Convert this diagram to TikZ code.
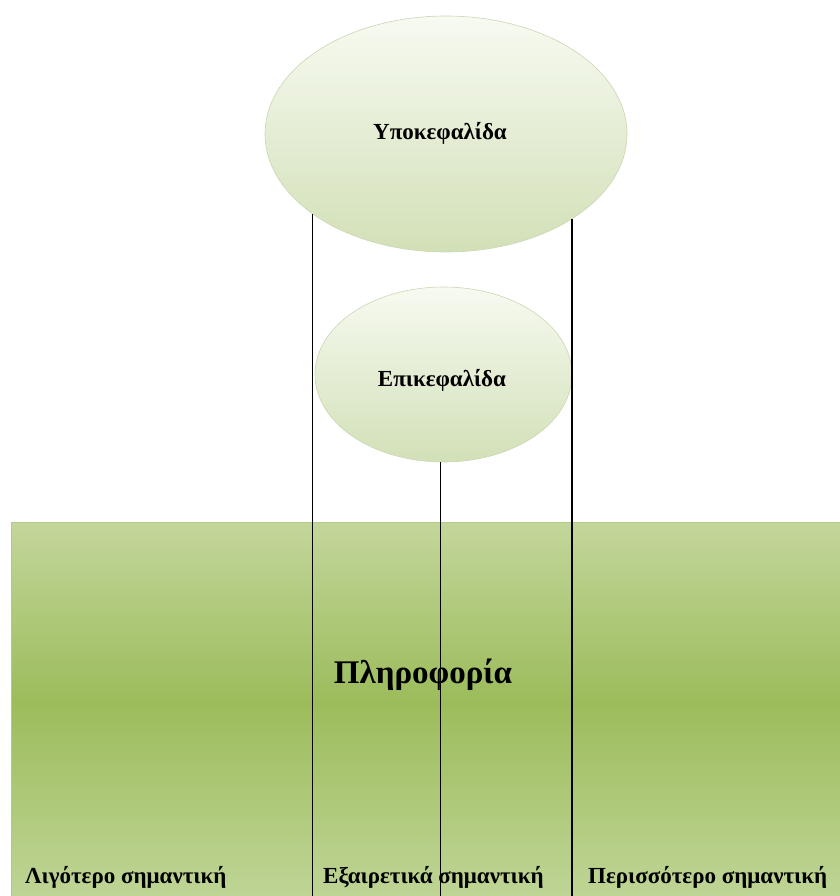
\documentclass[tikz,border=0pt]{standalone}
\usepackage{fontspec}
\setmainfont{Liberation Serif}
\usetikzlibrary{shapes.geometric}
\definecolor{rtop}{HTML}{C3D69B}
\definecolor{rmid}{HTML}{9CBC5B}
\definecolor{rbot}{HTML}{C0D597}
\definecolor{redge}{HTML}{B3C98A}
\definecolor{etop}{HTML}{F7FAF1}
\definecolor{ebot}{HTML}{D2E0B7}
\definecolor{eedge}{HTML}{CBD6B4}
\begin{document}
\begin{tikzpicture}[x=1pt,y=-1pt,
  bubble/.style={ellipse, draw=eedge, line width=0.6pt, top color=etop, bottom color=ebot, inner sep=0pt},
  infobox/.style={rectangle, inner sep=0pt, outer sep=0pt, anchor=north west, minimum width=840pt},
  lbl/.style={font=\bfseries\fontsize{23}{27}\selectfont, anchor=base west, inner sep=0pt},
  conn/.style={line width=1.2pt, black}]
\useasboundingbox (0,0) rectangle (839,896);
\node[infobox, top color=rtop, bottom color=rmid, minimum height=180pt] (info) at (11,522) {};
\node[infobox, top color=rmid, bottom color=rbot, minimum height=200pt] (info2) at (11,701.5) {};
\draw[redge, line width=0.8pt] (info.south west) -- (info.north west) -- (info.north east);
\draw[redge, line width=0.8pt] (info2.north west) -- (info2.south west);
\node[bubble, minimum width=362pt, minimum height=236pt] (sub) at (446,134) {};
\node[bubble, minimum width=257pt, minimum height=175pt] (head) at (443.5,374.5) {};
\node[lbl, anchor=base] (subt) at (440,140) {Υποκεφαλίδα};
\node[lbl, anchor=base] (headt) at (442,386) {Επικεφαλίδα};
\node[font=\bfseries\fontsize{33}{38}\selectfont, anchor=base, inner sep=0pt] (infot) at (423,683) {Πληροφορία};
\node[lbl] (l1) at (25,883) {Λιγότερο σημαντική};
\node[lbl] (l2) at (323,883) {Εξαιρετικά σημαντική};
\node[lbl] (l3) at (588,883) {Περισσότερο σημαντική};
\coordinate (bot) at (0,896);
\draw[conn] (sub.211.86) -- (sub.211.86 |- bot);
\draw[conn] (sub.326.5) -- (sub.326.5 |- bot);
\draw[conn] (head.268.4) -- (head.268.4 |- bot);
\end{tikzpicture}
\end{document}
